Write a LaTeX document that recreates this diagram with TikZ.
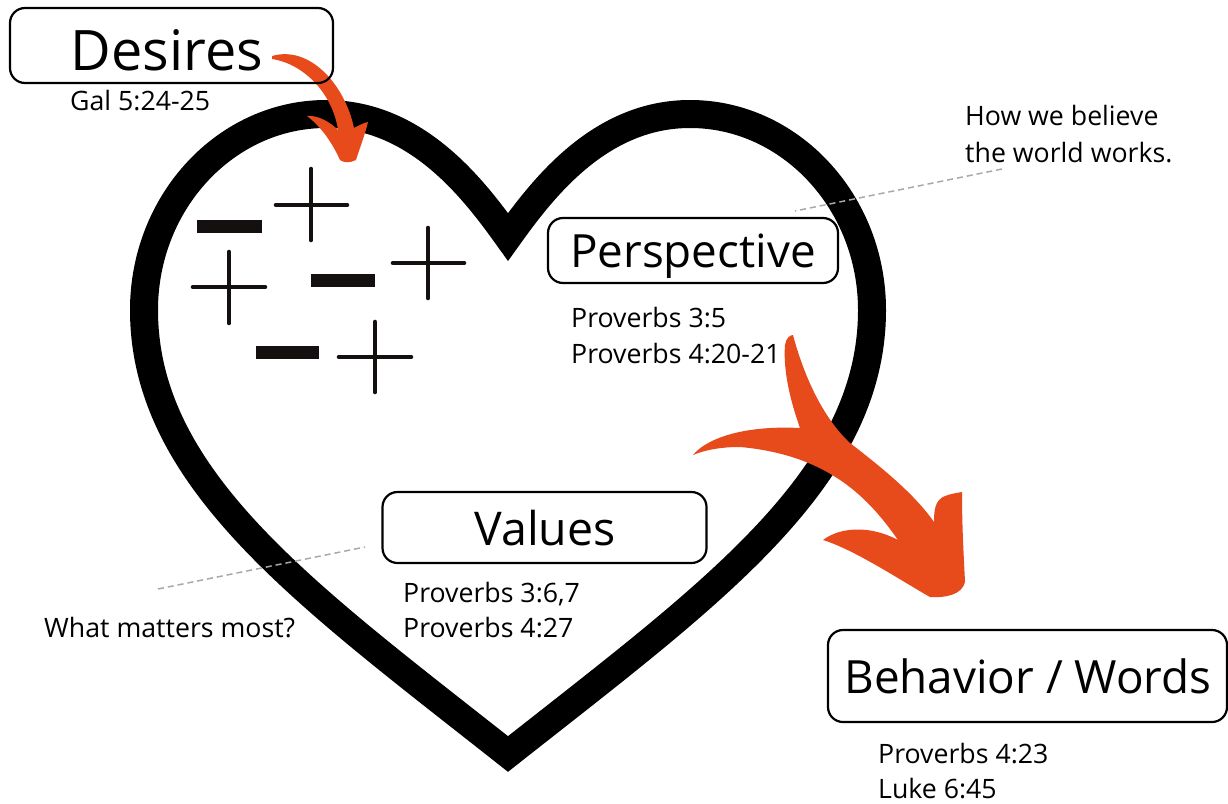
\documentclass[tikz,border=0pt]{standalone}
\usepackage{fontspec}
\setmainfont{Open Sans}
\definecolor{arrowor}{HTML}{E84B1B}
\definecolor{signc}{HTML}{141010}
\definecolor{dashc}{HTML}{A8A8A8}
\tikzset{
  heartline/.style={line width=28pt, line join=miter, draw=black},
  plussign/.style={line width=4.6pt, line cap=round, draw=signc},
  minussign/.style={fill=signc},
  dashline/.style={draw=dashc, line width=1.5pt, dash pattern=on 6pt off 4pt},
  brush/.style={fill=arrowor},
  labelbox/.style={draw=black, line width=2.2pt, rounded corners=15pt, inner sep=0pt},
  bigtitle/.style={inner sep=0pt, anchor=base, font=\fontsize{45.8}{50}\selectfont},
  reftext/.style={inner sep=0pt, anchor=base west, font=\fontsize{26.7}{30}\selectfont},
}
\begin{document}
\begin{tikzpicture}[x=1pt,y=-1pt]
\useasboundingbox (0,0) rectangle (1228,803);
% heart
\draw[heartline] (508,237) .. controls (543,188) and (600,114) .. (690,114)
  .. controls (790,114) and (872,202) .. (872,310)
  .. controls (872,480) and (708,596) .. (508,754)
  .. controls (308,596) and (144,480) .. (144,310)
  .. controls (144,202) and (226,114) .. (326,114)
  .. controls (416,114) and (473,188) .. cycle;
% minus signs
\fill[minussign] (197,220) rectangle (262,233);
\fill[minussign] (311,274) rectangle (375,287);
\fill[minussign] (256,346) rectangle (319,359);
% plus signs
\draw[plussign] (276,205) -- (347,205) (311,169) -- (311,240);
\draw[plussign] (193,287) -- (265,287) (229,252) -- (229,323);
\draw[plussign] (393,263) -- (464,263) (428,228) -- (428,298);
\draw[plussign] (339,357) -- (411,357) (375,322) -- (375,392);
% dashed pointer lines
\coordinate (pa) at (1002,169);
\coordinate (pb) at (795,211);
\coordinate (va) at (158,589);
\coordinate (vb) at (365,547);
\draw[dashline] (pa) -- (pb);
\draw[dashline] (va) -- (vb);
% arrow from Desires
\fill[brush] (272,56) .. controls (310,45) and (345,85) .. (354,128)
  .. controls (358,126) and (363,123) .. (368,122)
  .. controls (364,138) and (359,150) .. (356,160)
  .. controls (350,163) and (344,163) .. (340,160)
  .. controls (331,140) and (319,125) .. (307,116)
  .. controls (318,115) and (330,122) .. (338,130)
  .. controls (333,95) and (305,64) .. (272,59) -- cycle;
% big arrow to Behavior
\fill[brush] (793,335) .. controls (805,380) and (825,420) .. (850,443)
  .. controls (885,470) and (915,495) .. (934,522)
  .. controls (934,510) and (935,500) .. (945,496)
  .. controls (950,494) and (956,493) .. (962,492)
  .. controls (962,530) and (964,560) .. (965,582)
  .. controls (962,595) and (945,598) .. (930,597)
  .. controls (900,580) and (855,550) .. (823,540)
  .. controls (840,527) and (870,525) .. (898,540)
  .. controls (870,500) and (830,455) .. (740,447)
  .. controls (720,447) and (705,450) .. (693,455)
  .. controls (705,440) and (740,425) .. (800,428)
  .. controls (790,400) and (783,370) .. (785,345)
  .. controls (786,338) and (790,335) .. (793,335) -- cycle;
% boxes
\node[labelbox, minimum width=323pt, minimum height=75pt] (desbox) at (171.5,45.5) {};
\node[labelbox, minimum width=290pt, minimum height=65pt] (perbox) at (693,250.5) {};
\node[labelbox, minimum width=324pt, minimum height=71pt] (valbox) at (544.5,527.5) {};
\node[labelbox, minimum width=399pt, minimum height=92pt] (behbox) at (1027.5,676) {};
% titles
\node[bigtitle, font=\fontsize{55.8}{60}\selectfont] (destitle) at (167,70) {Desires};
\node[bigtitle] (pertitle) at (693,267) {Perspective};
\node[bigtitle, font=\fontsize{46.5}{50}\selectfont] (valtitle) at (545,545) {Values};
\node[bigtitle] (behtitle) at (1028,693) {Behavior / Words};
% references
\node[reftext] (gal) at (70,110) {Gal 5:24-25};
\node[reftext] (pr35) at (571,327) {Proverbs 3:5};
\node[reftext] (pr420) at (571,363) {Proverbs 4:20-21};
\node[reftext] (pr367) at (403,602) {Proverbs 3:6,7};
\node[reftext] (pr427) at (403,637) {Proverbs 4:27};
\node[reftext] (pr423) at (878,763) {Proverbs 4:23};
\node[reftext] (luke) at (878,798) {Luke 6:45};
\node[reftext] (how1) at (965,125) {How we believe};
\node[reftext] (how2) at (965,162) {the world works.};
\node[reftext] (what) at (44,637) {What matters most?};
\end{tikzpicture}
\end{document}
